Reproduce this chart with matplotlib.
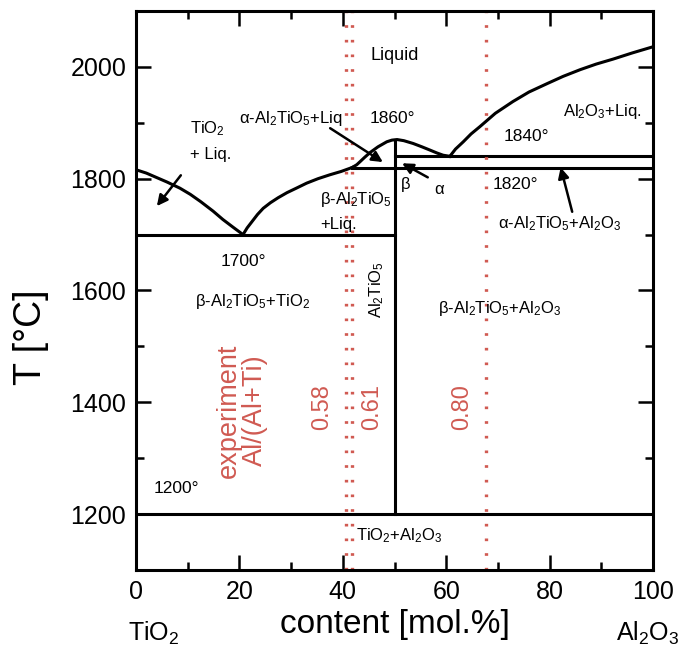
import matplotlib
matplotlib.use('Agg')
import matplotlib.pyplot as plt
import numpy as np

plt.rcParams['font.family'] = ['Liberation Sans', 'DejaVu Sans']
plt.rcParams['mathtext.fontset'] = 'custom'
plt.rcParams['mathtext.rm'] = 'Liberation Sans'
plt.rcParams['mathtext.it'] = 'Liberation Sans'
plt.rcParams['mathtext.bf'] = 'Liberation Sans:bold'

# liquidus curves (mol.% Al2O3, T in degC)
tio2_liq_x = [0, 2, 4, 6, 8.5, 10.5, 12.5, 14.9, 16.8, 18.8, 20.7]
tio2_liq_t = [1816, 1810, 1802, 1794, 1783, 1772, 1759, 1742, 1727, 1713, 1700]
beta_liq_x = [20.7, 21.5, 22.5, 23.5, 24.6, 26, 27.5, 29.2, 31, 33, 35.2, 37.5, 39.7, 41.8]
beta_liq_t = [1700, 1712, 1724, 1736, 1747, 1757, 1766, 1775, 1783, 1792, 1800, 1807, 1813, 1820]
alpha_liq_x = [41.8, 42.7, 43.4, 44.2, 45.3, 46.8, 48.5, 49.5, 50.5, 51.8, 53.6,
               55.3, 56.9, 58.2, 59.4, 60.7]
alpha_liq_t = [1820, 1825, 1831, 1838, 1847, 1857, 1866, 1869, 1870, 1868, 1863,
               1857, 1851, 1846, 1842, 1840]
al2o3_liq_x = [60.7, 61.8, 63.3, 64.8, 66.5, 69.5, 72.9, 76, 79.5, 82.6, 85.9,
               89, 92.3, 96, 100]
al2o3_liq_t = [1840, 1853, 1866, 1880, 1893, 1917, 1938, 1955, 1970, 1983, 1995,
               2005, 2014, 2025, 2036]

# invariant lines
eutectic_tio2 = 1700
eutectoid = 1200
beta_alpha = 1820
eutectic_al2o3 = 1840
compound_x = 50
compound_top = 1870

# experimental compositions
exp_x = [40.6, 41.8, 67.7]
exp_labels = ['0.58', '0.61', '0.80']
exp_label_x = [36, 45.7, 63]

red = '#d05a52'

fig = plt.figure(figsize=(6.95, 6.62), dpi=100)
ax = fig.add_axes([0.1957, 0.139, 0.7439, 0.8444])

lw = 2.2
for xs, ts in [(tio2_liq_x, tio2_liq_t), (beta_liq_x, beta_liq_t),
               (alpha_liq_x, alpha_liq_t), (al2o3_liq_x, al2o3_liq_t)]:
    ax.plot(xs, ts, color='black', lw=lw, solid_joinstyle='round')

ax.plot([0, compound_x], [eutectic_tio2] * 2, color='black', lw=lw)
ax.plot([0, 100], [eutectoid] * 2, color='black', lw=lw)
ax.plot([41.8, 100], [beta_alpha] * 2, color='black', lw=lw)
ax.plot([compound_x, 100], [eutectic_al2o3] * 2, color='black', lw=lw)
ax.plot([compound_x] * 2, [eutectoid, compound_top], color='black', lw=lw)

for x in exp_x:
    ax.axvline(x, color=red, lw=2.4, linestyle=(0, (0.8, 3.6)))

for x, lab in zip(exp_label_x, exp_labels):
    ax.text(x, 1392, lab, color=red, fontsize=17, rotation=90,
            ha='center', va='center')
ax.text(20.5, 1385, 'experiment\nAl/(Al+Ti)', color=red, fontsize=19.5,
        rotation=90, ha='center', va='center', linespacing=1.0)

fs = 12
ax.text(45.3, 2021, 'Liquid', fontsize=13, ha='left', va='center')
ax.text(49.5, 1907, '1860°', fontsize=12.5, ha='center', va='center')
ax.text(30, 1907, r'$\alpha$-Al$_2$TiO$_5$+Liq', fontsize=fs, ha='center', va='center')
ax.text(10.5, 1890, 'TiO$_2$', fontsize=fs, ha='left', va='center')
ax.text(10.5, 1843, '+ Liq.', fontsize=fs, ha='left', va='center')
ax.text(35.6, 1763, r'$\beta$-Al$_2$TiO$_5$', fontsize=fs, ha='left', va='center')
ax.text(35.6, 1718, '+Liq.', fontsize=fs, ha='left', va='center')
ax.text(52.2, 1790, r'$\beta$', fontsize=fs, ha='center', va='center')
ax.text(58.8, 1781, r'$\alpha$', fontsize=fs, ha='center', va='center')
ax.text(90.3, 1920, 'Al$_2$O$_3$+Liq.', fontsize=fs, ha='center', va='center')
ax.text(75.6, 1875, '1840°', fontsize=12.5, ha='center', va='center')
ax.text(73.3, 1790, '1820°', fontsize=12.5, ha='center', va='center')
ax.text(82, 1720, r'$\alpha$-Al$_2$TiO$_5$+Al$_2$O$_3$', fontsize=fs, ha='center', va='center')
ax.text(20.7, 1652, '1700°', fontsize=12.5, ha='center', va='center')
ax.text(22.6, 1581, r'$\beta$-Al$_2$TiO$_5$+TiO$_2$', fontsize=fs, ha='center', va='center')
ax.text(46.6, 1602, 'Al$_2$TiO$_5$', fontsize=fs, rotation=90, ha='center', va='center')
ax.text(70.4, 1567, r'$\beta$-Al$_2$TiO$_5$+Al$_2$O$_3$', fontsize=fs, ha='center', va='center')
ax.text(7.9, 1246, '1200°', fontsize=12.5, ha='center', va='center')
ax.text(51, 1162, 'TiO$_2$+Al$_2$O$_3$', fontsize=fs, ha='center', va='center')

arrow = dict(arrowstyle='-|>', color='black', lw=1.8, mutation_scale=16)
ax.annotate('', xy=(48.2, 1827), xytext=(37.1, 1893), arrowprops=arrow)
ax.annotate('', xy=(3.7, 1747), xytext=(9, 1810), arrowprops=arrow)
ax.annotate('', xy=(51, 1830), xytext=(56.9, 1800), arrowprops=arrow)
ax.annotate('', xy=(82, 1825), xytext=(84.5, 1736), arrowprops=arrow)

ax.set_xlim(0, 100)
ax.set_ylim(1100, 2100)
ax.set_xticks(np.arange(0, 101, 20))
ax.set_xticks(np.arange(0, 101, 10), minor=True)
ax.set_yticks(np.arange(1200, 2001, 200))
ax.set_yticks(np.arange(1100, 2101, 100), minor=True)
ax.tick_params(which='both', direction='in', top=True, right=True, width=1.8)
ax.tick_params(which='major', length=11, labelsize=18, pad=7)
ax.tick_params(which='minor', length=6)
for s in ax.spines.values():
    s.set_linewidth(2.2)

ax.set_ylabel('T [°C]', fontsize=27, va='center')
ax.yaxis.set_label_coords(-0.203, 0.417)
ax.set_xlabel('content [mol.%]', fontsize=24, labelpad=4)
ax.text(3.5, -0.113, 'TiO$_2$', fontsize=18, ha='center', va='center',
        transform=ax.get_xaxis_transform())
ax.text(99, -0.113, 'Al$_2$O$_3$', fontsize=18, ha='center', va='center',
        transform=ax.get_xaxis_transform())

fig.savefig('out.png', dpi=100)
